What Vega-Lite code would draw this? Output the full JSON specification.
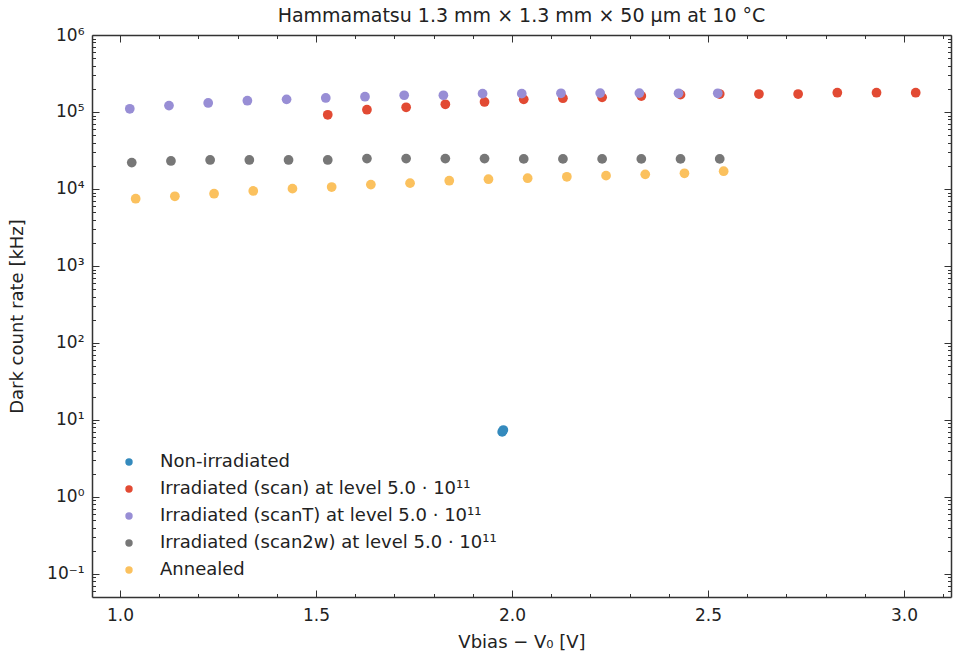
{
  "$schema": "https://vega.github.io/schema/vega-lite/v6.json",
  "width": 859,
  "height": 562,
  "autosize": {"type": "none"},
  "padding": {"left": 92, "top": 35, "right": 2, "bottom": 58},
  "background": "white",
  "config": {
    "font": "DejaVu Sans",
    "view": {"stroke": null},
    "axis": {
      "grid": false,
      "domainColor": "#333333",
      "domainWidth": 1.5,
      "tickColor": "#333333",
      "tickWidth": 1,
      "labelColor": "#222222",
      "labelFontSize": 17,
      "titleColor": "#222222",
      "titleFontSize": 18,
      "titleFontWeight": "normal"
    }
  },
  "title": {
    "text": "Hammamatsu 1.3 mm × 1.3 mm ×  50 μm at 10 °C",
    "fontSize": 19,
    "fontWeight": "normal",
    "color": "#222222",
    "offset": 0,
    "anchor": "middle"
  },
  "data": {
    "values": [
      {"series": "Non-irradiated", "v": 1.975, "rate": 7.0},
      {"series": "Non-irradiated", "v": 1.978, "rate": 7.4},
      {"series": "Irradiated (scan) at level 5.0 · 10¹¹", "v": 1.53, "rate": 92000},
      {"series": "Irradiated (scan) at level 5.0 · 10¹¹", "v": 1.63, "rate": 107000},
      {"series": "Irradiated (scan) at level 5.0 · 10¹¹", "v": 1.73, "rate": 115000},
      {"series": "Irradiated (scan) at level 5.0 · 10¹¹", "v": 1.83, "rate": 126000},
      {"series": "Irradiated (scan) at level 5.0 · 10¹¹", "v": 1.93, "rate": 135000},
      {"series": "Irradiated (scan) at level 5.0 · 10¹¹", "v": 2.03, "rate": 146000},
      {"series": "Irradiated (scan) at level 5.0 · 10¹¹", "v": 2.13, "rate": 151000},
      {"series": "Irradiated (scan) at level 5.0 · 10¹¹", "v": 2.23, "rate": 155000},
      {"series": "Irradiated (scan) at level 5.0 · 10¹¹", "v": 2.33, "rate": 161000},
      {"series": "Irradiated (scan) at level 5.0 · 10¹¹", "v": 2.43, "rate": 168000},
      {"series": "Irradiated (scan) at level 5.0 · 10¹¹", "v": 2.53, "rate": 171000},
      {"series": "Irradiated (scan) at level 5.0 · 10¹¹", "v": 2.63, "rate": 171000},
      {"series": "Irradiated (scan) at level 5.0 · 10¹¹", "v": 2.73, "rate": 171000},
      {"series": "Irradiated (scan) at level 5.0 · 10¹¹", "v": 2.83, "rate": 178000},
      {"series": "Irradiated (scan) at level 5.0 · 10¹¹", "v": 2.93, "rate": 178000},
      {"series": "Irradiated (scan) at level 5.0 · 10¹¹", "v": 3.03, "rate": 178000},
      {"series": "Irradiated (scanT) at level 5.0 · 10¹¹", "v": 1.025, "rate": 110000},
      {"series": "Irradiated (scanT) at level 5.0 · 10¹¹", "v": 1.125, "rate": 121000},
      {"series": "Irradiated (scanT) at level 5.0 · 10¹¹", "v": 1.225, "rate": 131000},
      {"series": "Irradiated (scanT) at level 5.0 · 10¹¹", "v": 1.325, "rate": 140000},
      {"series": "Irradiated (scanT) at level 5.0 · 10¹¹", "v": 1.425, "rate": 146000},
      {"series": "Irradiated (scanT) at level 5.0 · 10¹¹", "v": 1.525, "rate": 152000},
      {"series": "Irradiated (scanT) at level 5.0 · 10¹¹", "v": 1.625, "rate": 158000},
      {"series": "Irradiated (scanT) at level 5.0 · 10¹¹", "v": 1.725, "rate": 165000},
      {"series": "Irradiated (scanT) at level 5.0 · 10¹¹", "v": 1.825, "rate": 165000},
      {"series": "Irradiated (scanT) at level 5.0 · 10¹¹", "v": 1.925, "rate": 173000},
      {"series": "Irradiated (scanT) at level 5.0 · 10¹¹", "v": 2.025, "rate": 173000},
      {"series": "Irradiated (scanT) at level 5.0 · 10¹¹", "v": 2.125, "rate": 175000},
      {"series": "Irradiated (scanT) at level 5.0 · 10¹¹", "v": 2.225, "rate": 176000},
      {"series": "Irradiated (scanT) at level 5.0 · 10¹¹", "v": 2.325, "rate": 176000},
      {"series": "Irradiated (scanT) at level 5.0 · 10¹¹", "v": 2.425, "rate": 175000},
      {"series": "Irradiated (scanT) at level 5.0 · 10¹¹", "v": 2.525, "rate": 175000},
      {"series": "Irradiated (scan2w) at level 5.0 · 10¹¹", "v": 1.03, "rate": 22000},
      {"series": "Irradiated (scan2w) at level 5.0 · 10¹¹", "v": 1.13, "rate": 23100},
      {"series": "Irradiated (scan2w) at level 5.0 · 10¹¹", "v": 1.23, "rate": 23800},
      {"series": "Irradiated (scan2w) at level 5.0 · 10¹¹", "v": 1.33, "rate": 23800},
      {"series": "Irradiated (scan2w) at level 5.0 · 10¹¹", "v": 1.43, "rate": 23800},
      {"series": "Irradiated (scan2w) at level 5.0 · 10¹¹", "v": 1.53, "rate": 23800},
      {"series": "Irradiated (scan2w) at level 5.0 · 10¹¹", "v": 1.63, "rate": 24800},
      {"series": "Irradiated (scan2w) at level 5.0 · 10¹¹", "v": 1.73, "rate": 24800},
      {"series": "Irradiated (scan2w) at level 5.0 · 10¹¹", "v": 1.83, "rate": 24800},
      {"series": "Irradiated (scan2w) at level 5.0 · 10¹¹", "v": 1.93, "rate": 24800},
      {"series": "Irradiated (scan2w) at level 5.0 · 10¹¹", "v": 2.03, "rate": 24600},
      {"series": "Irradiated (scan2w) at level 5.0 · 10¹¹", "v": 2.13, "rate": 24600},
      {"series": "Irradiated (scan2w) at level 5.0 · 10¹¹", "v": 2.23, "rate": 24600},
      {"series": "Irradiated (scan2w) at level 5.0 · 10¹¹", "v": 2.33, "rate": 24600},
      {"series": "Irradiated (scan2w) at level 5.0 · 10¹¹", "v": 2.43, "rate": 24600},
      {"series": "Irradiated (scan2w) at level 5.0 · 10¹¹", "v": 2.53, "rate": 24600},
      {"series": "Annealed", "v": 1.04, "rate": 7480},
      {"series": "Annealed", "v": 1.14, "rate": 8040},
      {"series": "Annealed", "v": 1.24, "rate": 8690},
      {"series": "Annealed", "v": 1.34, "rate": 9420},
      {"series": "Annealed", "v": 1.44, "rate": 10100},
      {"series": "Annealed", "v": 1.54, "rate": 10600},
      {"series": "Annealed", "v": 1.64, "rate": 11400},
      {"series": "Annealed", "v": 1.74, "rate": 11900},
      {"series": "Annealed", "v": 1.84, "rate": 12800},
      {"series": "Annealed", "v": 1.94, "rate": 13400},
      {"series": "Annealed", "v": 2.04, "rate": 13800},
      {"series": "Annealed", "v": 2.14, "rate": 14400},
      {"series": "Annealed", "v": 2.24, "rate": 14900},
      {"series": "Annealed", "v": 2.34, "rate": 15500},
      {"series": "Annealed", "v": 2.44, "rate": 16000},
      {"series": "Annealed", "v": 2.54, "rate": 17000}
    ]
  },
  "layer": [
    {
      "mark": {"type": "circle", "size": 95, "opacity": 1},
      "encoding": {
        "x": {
          "field": "v",
          "type": "quantitative",
          "scale": {"domain": [0.9286, 3.12], "zero": false, "nice": false},
          "axis": {
            "orient": "bottom",
            "title": "Vbias − V₀ [V]",
            "values": [1.0, 1.1, 1.2, 1.3, 1.4, 1.5, 1.6, 1.7, 1.8, 1.9, 2.0, 2.1, 2.2, 2.3, 2.4, 2.5, 2.6, 2.7, 2.8, 2.9, 3.0, 3.1],
            "labelExpr": "abs(datum.value*2 - round(datum.value*2)) < 0.001 ? format(datum.value, '.1f') : ''",
            "tickSize": {"condition": {"test": "abs(datum.value*2 - round(datum.value*2)) < 0.001", "value": -7}, "value": -3.5},
            "labelPadding": 17,
            "titlePadding": 10
          }
        },
        "y": {
          "field": "rate",
          "type": "quantitative",
          "scale": {"type": "log", "domain": [0.0502, 1000000], "nice": false},
          "axis": {
            "orient": "left",
            "title": "Dark count rate [kHz]",
            "values": [0.06, 0.07, 0.08, 0.09, 0.1, 0.2, 0.3, 0.4, 0.5, 0.6, 0.7, 0.8, 0.9, 1, 2, 3, 4, 5, 6, 7, 8, 9, 10, 20, 30, 40, 50, 60, 70, 80, 90, 100, 200, 300, 400, 500, 600, 700, 800, 900, 1000, 2000, 3000, 4000, 5000, 6000, 7000, 8000, 9000, 10000, 20000, 30000, 40000, 50000, 60000, 70000, 80000, 90000, 100000, 200000, 300000, 400000, 500000, 600000, 700000, 800000, 900000, 1000000],
            "labelExpr": "abs(log(datum.value)/LN10 - round(log(datum.value)/LN10)) < 0.001 ? ['10⁻²','10⁻¹','10⁰','10¹','10²','10³','10⁴','10⁵','10⁶'][round(log(datum.value)/LN10)+2] : ''",
            "tickSize": {"condition": {"test": "abs(log(datum.value)/LN10 - round(log(datum.value)/LN10)) < 0.001", "value": -7}, "value": -3.5},
            "labelPadding": 15,
            "titlePadding": 20
          }
        },
        "color": {
          "field": "series",
          "type": "nominal",
          "sort": null,
          "scale": {
            "domain": ["Non-irradiated", "Irradiated (scan) at level 5.0 · 10¹¹", "Irradiated (scanT) at level 5.0 · 10¹¹", "Irradiated (scan2w) at level 5.0 · 10¹¹", "Annealed"],
            "range": ["#348ABD", "#E24A33", "#988ED5", "#777777", "#FBC15E"]
          },
          "legend": {
            "orient": "none",
            "legendX": 28,
            "legendY": 418,
            "title": null,
            "labelFontSize": 18,
            "labelColor": "#222222",
            "labelLimit": 0,
            "symbolSize": 55,
            "symbolType": "circle",
            "labelOffset": 22,
            "rowPadding": 9,
            "padding": 0
          }
        }
      }
    },
    {
      "mark": {"type": "circle", "opacity": 0},
      "encoding": {
        "x": {
          "field": "v",
          "type": "quantitative",
          "axis": {
            "orient": "top",
            "title": null,
            "labels": false,
            "values": [1.0, 1.1, 1.2, 1.3, 1.4, 1.5, 1.6, 1.7, 1.8, 1.9, 2.0, 2.1, 2.2, 2.3, 2.4, 2.5, 2.6, 2.7, 2.8, 2.9, 3.0, 3.1],
            "tickSize": {"condition": {"test": "abs(datum.value*2 - round(datum.value*2)) < 0.001", "value": -7}, "value": -3.5}
          }
        },
        "y": {
          "field": "rate",
          "type": "quantitative",
          "axis": {
            "orient": "right",
            "title": null,
            "labels": false,
            "values": [0.06, 0.07, 0.08, 0.09, 0.1, 0.2, 0.3, 0.4, 0.5, 0.6, 0.7, 0.8, 0.9, 1, 2, 3, 4, 5, 6, 7, 8, 9, 10, 20, 30, 40, 50, 60, 70, 80, 90, 100, 200, 300, 400, 500, 600, 700, 800, 900, 1000, 2000, 3000, 4000, 5000, 6000, 7000, 8000, 9000, 10000, 20000, 30000, 40000, 50000, 60000, 70000, 80000, 90000, 100000, 200000, 300000, 400000, 500000, 600000, 700000, 800000, 900000, 1000000],
            "tickSize": {"condition": {"test": "abs(log(datum.value)/LN10 - round(log(datum.value)/LN10)) < 0.001", "value": -7}, "value": -3.5}
          }
        }
      }
    }
  ],
  "resolve": {"axis": {"x": "independent", "y": "independent"}}
}
